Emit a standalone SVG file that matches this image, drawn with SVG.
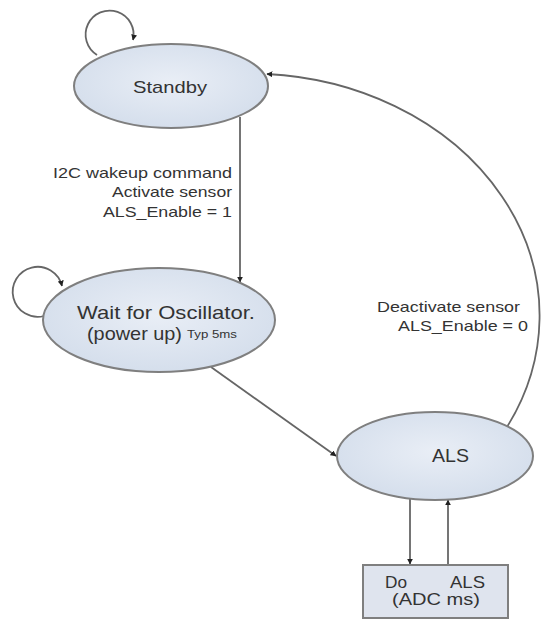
<svg xmlns="http://www.w3.org/2000/svg" width="550" height="621" viewBox="0 0 550 621">
<style>
.st{fill:url(#g);stroke:#7f7f7f;stroke-width:2}
.t{font-family:"Liberation Sans",Arial,sans-serif;fill:#333}
.c{fill:none;stroke:#666;stroke-width:1.8}
</style>
<defs>
<radialGradient id="g" cx="50%" cy="45%" r="60%">
<stop offset="0" stop-color="#e9eef6"/>
<stop offset="1" stop-color="#d3ddeb"/>
</radialGradient>
<marker id="a" viewBox="0 0 10 10" refX="9" refY="5" markerWidth="6" markerHeight="6" markerUnits="userSpaceOnUse" orient="auto">
<path d="M0 0 L10 5 L0 10 z" fill="#222"/>
</marker>
</defs>
<rect width="550" height="621" fill="#fff"/>
<g id="connectors">
<path class="c" d="M 97 55 A 24 24 0 1 1 133 40" marker-end="url(#a)"/>
<path class="c" d="M 44 316 A 25 25 0 1 1 62 286" marker-end="url(#a)"/>
<path class="c" d="M 240 117 L 240 282" stroke-width="2.5" stroke="#888" marker-end="url(#a)"/>
<path class="c" d="M 211 367 L 336 456" marker-end="url(#a)"/>
<path class="c" d="M 507 427 A 290 242 0 0 0 267 74" stroke="#777" marker-end="url(#a)"/>
<path class="c" d="M 410 499 L 410 564" marker-end="url(#a)"/>
<path class="c" d="M 448 565 L 448 500" marker-end="url(#a)"/>
<text class="t" font-size="15" x="53" y="178" textLength="179" lengthAdjust="spacingAndGlyphs">I2C wakeup command</text>
<text class="t" font-size="15" x="112" y="197" textLength="120" lengthAdjust="spacingAndGlyphs">Activate sensor</text>
<text class="t" font-size="15" x="103" y="217" textLength="129" lengthAdjust="spacingAndGlyphs">ALS_Enable = 1</text>
<text class="t" font-size="15" x="377" y="312" textLength="143" lengthAdjust="spacingAndGlyphs">Deactivate sensor</text>
<text class="t" font-size="15" x="398" y="331" textLength="130" lengthAdjust="spacingAndGlyphs">ALS_Enable = 0</text>
</g>
<g id="standby">
<ellipse class="st" cx="171" cy="86" rx="97" ry="42"/>
<text class="t" font-size="17" x="133" y="93" textLength="74" lengthAdjust="spacingAndGlyphs">Standby</text>
</g>
<g id="wait">
<ellipse class="st" cx="159" cy="320" rx="116" ry="52"/>
<text class="t" font-size="19" x="77" y="319" textLength="178" lengthAdjust="spacingAndGlyphs">Wait for Oscillator.</text>
<text class="t" font-size="19" x="87" y="340" textLength="95" lengthAdjust="spacingAndGlyphs">(power up)</text>
<text class="t" font-size="11" x="187" y="338" textLength="50" lengthAdjust="spacingAndGlyphs">Typ 5ms</text>
</g>
<g id="als">
<ellipse class="st" cx="435" cy="456" rx="98" ry="44"/>
<text class="t" font-size="19" x="432" y="462" textLength="37" lengthAdjust="spacingAndGlyphs">ALS</text>
</g>
<g id="doals">
<rect x="363" y="565" width="145" height="53" fill="#dfe4ee" stroke="#7f7f7f" stroke-width="2"/>
<text class="t" font-size="17" x="385" y="588" textLength="22" lengthAdjust="spacingAndGlyphs">Do</text>
<text class="t" font-size="17" x="450" y="588" textLength="35" lengthAdjust="spacingAndGlyphs">ALS</text>
<text class="t" font-size="17" x="392" y="605" textLength="88" lengthAdjust="spacingAndGlyphs">(ADC ms)</text>
</g>
</svg>
